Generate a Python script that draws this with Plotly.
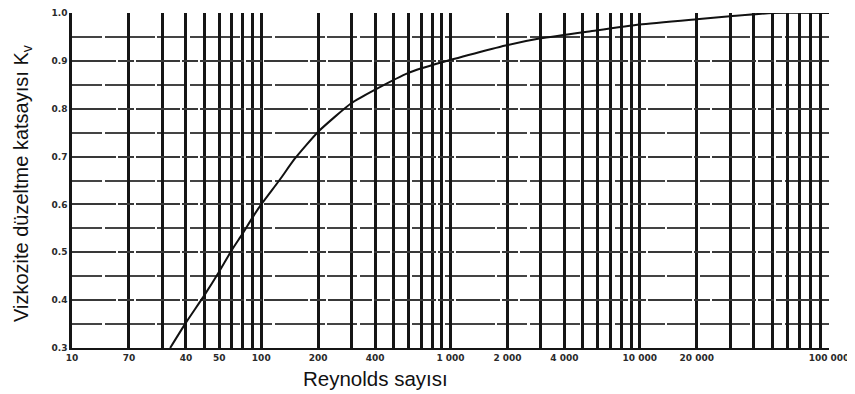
import plotly.graph_objects as go

# Curve
reynolds = [33, 40, 50, 60, 70, 80, 90, 100, 125, 150, 200, 300, 400, 600, 900, 2000, 3000, 5500, 10000, 20000, 30000, 50000, 100000]
kv = [0.30, 0.353, 0.41, 0.46, 0.505, 0.54, 0.573, 0.60, 0.651, 0.695, 0.752, 0.812, 0.84, 0.875, 0.897, 0.933, 0.947, 0.962, 0.976, 0.987, 0.993, 1.0, 1.0]

# X tick labels as printed on the reference
x_label_vals = [10, 20, 40, 60, 100, 200, 400, 1000, 2000, 4000, 10000, 20000, 100000]
x_label_text = ["10", "70", "40", "50", "100", "200", "400", "1 000", "2 000", "4 000", "10 000", "20 000", "100 000"]

y_tick_vals = [0.3, 0.4, 0.5, 0.6, 0.7, 0.8, 0.9, 1.0]
y_tick_text = ["0.3", "0.4", "0.5", "0.6", "0.7", "0.8", "0.9", "1.0"]
y_minor_vals = [0.35, 0.45, 0.55, 0.65, 0.75, 0.85, 0.95]

x_title = "Reynolds sayısı"
y_title = "Vizkozite düzeltme katsayısı K<sub>v</sub>"

# full log grid (1..9 x decade)
grid_vals = []
for e in [10, 100, 1000, 10000]:
    for m in range(1, 10):
        grid_vals.append(m * e)
grid_vals.append(100000)
grid_text = [x_label_text[x_label_vals.index(v)] if v in x_label_vals else " " for v in grid_vals]

fig = go.Figure()
fig.add_trace(go.Scatter(
    x=reynolds, y=kv, mode="lines",
    line=dict(color="#111111", width=2, shape="spline", smoothing=0.5),
    hoverinfo="skip", showlegend=False,
))

tick_font = dict(family="DejaVu Sans", size=9, color="#2a2a2a", weight="bold")

# page body has an 8px margin: figure is sized/offset to compensate
fig.update_layout(
    width=847, height=386,
    margin=dict(l=64, r=26, t=5, b=46),
    paper_bgcolor="white", plot_bgcolor="white",
    xaxis=dict(
        type="log", range=[1, 5], automargin=False,
        tickmode="array", tickvals=grid_vals, ticktext=grid_text, tickangle=0,
        showgrid=True, gridcolor="#151515", gridwidth=2.5,
        showline=True, linecolor="#151515", linewidth=2,
        ticks="", tickfont=tick_font, zeroline=False, ticklabelstandoff=0,
    ),
    yaxis=dict(
        range=[0.3, 1.0], automargin=False,
        tickmode="array", tickvals=y_tick_vals, ticktext=y_tick_text,
        showgrid=True, gridcolor="#383838", gridwidth=1.8, griddash="44px,2px,16px,2px",
        minor=dict(tickmode="array", tickvals=y_minor_vals,
                   showgrid=True, gridcolor="#444444", gridwidth=1.8,
                   griddash="30px,3px,50px,2px", ticks=""),
        showline=True, linecolor="#151515", linewidth=2.5,
        ticks="", tickfont=tick_font, zeroline=False,
    ),
    annotations=[
        dict(text=x_title, xref="paper", yref="paper", x=(367 - 64) / 757, y=0,
             yshift=-30, yanchor="middle", xanchor="center", showarrow=False,
             font=dict(family="Liberation Sans", size=20.5, color="#111111")),
        dict(text=y_title, xref="paper", yref="paper", x=0, xshift=-50, y=(340 - 176) / 335,
             xanchor="center", yanchor="middle", textangle=-90, showarrow=False,
             font=dict(family="Liberation Sans", size=20, color="#111111")),
    ],
)

fig.write_html("out.html")
